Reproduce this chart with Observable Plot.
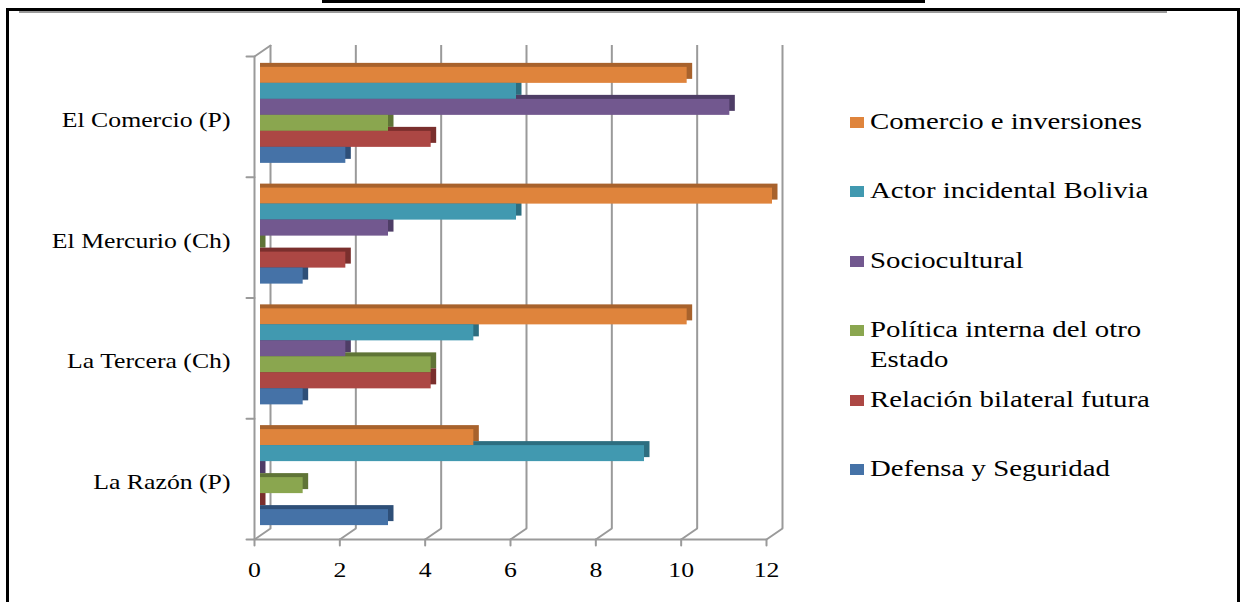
<!DOCTYPE html>
<html>
<head>
<meta charset="utf-8">
<script src="https://cdn.jsdelivr.net/npm/d3@7"></script>
<script src="https://cdn.jsdelivr.net/npm/@observablehq/plot@0.6"></script>
<style>
  html, body { margin: 0; padding: 0; background: #fff; }
  #wrap { position: relative; width: 1241px; height: 602px; overflow: hidden;
          font-family: "Liberation Serif", "Times New Roman", serif; }
  #chart { position: absolute; left: 0; top: 0; }
  .deco { position: absolute; }
  #legend { position: absolute; left: 0; top: 0; width: 1241px; height: 602px; pointer-events: none; }
  .lg-item { position: absolute; left: 850px; display: flex; align-items: flex-start; }
  .lg-sw { width: 14px; height: 11px; margin-top: 10px; flex: none; }
  .lg-txt { margin-left: 6px; font-size: 22.5px; line-height: 30px; color: #000;
            transform: scaleX(1.28); transform-origin: 0 0; white-space: nowrap; }
</style>
</head>
<body>
<div id="wrap">
  <div id="chart"></div>
  <div id="legend"></div>
  <div class="deco" style="left:322px;top:0;width:603px;height:3px;background:#000"></div>
  <div class="deco" style="left:6px;top:8px;width:1234px;height:3px;background:#000"></div>
  <div class="deco" style="left:19px;top:11px;width:1148px;height:2px;background:#9a9a9a"></div>
  <div class="deco" style="left:6px;top:8px;width:3px;height:594px;background:#000"></div>
  <div class="deco" style="left:1237px;top:8px;width:3px;height:594px;background:#000"></div>
</div>
<script>
// ---- data ----
const papers = ["El Comercio (P)", "El Mercurio (Ch)", "La Tercera (Ch)", "La Razón (P)"];
const seriesNames = [
  "Comercio e inversiones",
  "Actor incidental Bolivia",
  "Sociocultural",
  "Política interna del otro Estado",
  "Relación bilateral futura",
  "Defensa y Seguridad"
];
const comercio  = [10, 12, 10, 5];
const actor     = [6, 6, 5, 9];
const socio     = [11, 3, 2, 0];
const politica  = [3, 0, 4, 1];
const relacion  = [4, 2, 4, 0];
const defensa   = [2, 1, 1, 3];
const xTicks = [0, 2, 4, 6, 8, 10, 12];

const frontColors = ["#DF843C", "#4199B0", "#72588F", "#8AA64F", "#AC4744", "#4572A7"];
const sideColors  = ["#A8622C", "#2D6E80", "#4E3D66", "#5F7436", "#7A2F2D", "#2E4F78"];

// ---- build table ----
const seriesValues = [comercio, actor, socio, politica, relacion, defensa];
const rows = [];
papers.forEach((p, pi) => {
  seriesNames.forEach((s, si) => {
    rows.push({paper: p, pi, series: s, si, value: seriesValues[si][pi]});
  });
});

const barPad = 0.09;   // top padding inside a newspaper band (fraction of band)
const barH = 0.1325;   // thickness of one bar (fraction of band)
const y1 = d => d.pi + barPad + d.si * barH;
const y2 = d => d.pi + barPad + (d.si + 1) * barH;

const gray = "#9a9a9a";
const depthDx = 16, depthDy = -11;

const plot = Plot.plot({
  width: 1241,
  height: 602,
  marginLeft: 254,
  marginRight: 1241 - 766,
  marginTop: 56,
  marginBottom: 63,
  style: {fontFamily: "'Liberation Serif', 'Times New Roman', serif", background: "transparent", color: "#000"},
  x: {domain: [0, 12]},
  y: {domain: [0, 4], reverse: true},
  color: {domain: seriesNames, range: frontColors},
  marks: [
    // back wall gridlines
    Plot.ruleX(xTicks, {x: d => d, y1: 0, y2: 4, dx: depthDx, dy: depthDy, stroke: gray, strokeWidth: 2}),
    // floor diagonals
    Plot.vector(xTicks, {x: d => d, y: 4, rotate: 55.5, length: 19.4, anchor: "start", r: 0, stroke: gray, strokeWidth: 2}),
    // top-left diagonal of the side wall
    Plot.vector([0], {x: d => d, y: 0, rotate: 55.5, length: 19.4, anchor: "start", r: 0, stroke: gray, strokeWidth: 2}),
    // front left axis
    Plot.ruleX([0], {x: d => d, y1: 0, y2: 4, stroke: gray, strokeWidth: 2}),
    // front floor
    Plot.ruleY([4], {y: d => d, x1: 0, x2: 12, stroke: gray, strokeWidth: 2}),
    // category boundary ticks
    Plot.vector([0, 1, 2, 3, 4], {x: 0, y: d => d, rotate: -90, length: 8, anchor: "start", r: 0, stroke: gray, strokeWidth: 2}),
    // x ticks under the floor
    Plot.vector(xTicks, {x: d => d, y: 4, rotate: 180, length: 6, anchor: "start", r: 0, stroke: gray, strokeWidth: 2}),
    // bar depth (top + side faces)
    Plot.rectX(rows, {x1: 0, x2: "value", y1, y2, dx: 6, dy: -4, insetRight: -5.5,
      fill: d => sideColors[d.si]}),
    // bar fronts
    Plot.rectX(rows, {x1: 0, x2: "value", y1, y2, dx: 6, fill: "series"}),
    // axes text
    Plot.axisX(xTicks, {tickSize: 0, tickPadding: 22, fontSize: 22, label: null, fill: "#000"}),
    Plot.axisY(papers.map((d, i) => i + 0.5), {tickSize: 0, tickPadding: 24, fontSize: 22, dy: 3,
      tickFormat: d => papers[Math.floor(d)], label: null, fill: "#000"})
  ]
});
document.getElementById("chart").appendChild(plot);

// horizontal stretch of the label glyphs (the original image is stretched)
d3.select(plot).selectAll("g[aria-label='x-axis tick label'] text, g[aria-label='y-axis tick label'] text")
  .each(function() {
    const t = this.getAttribute("transform") || "";
    this.setAttribute("transform", t + " scale(1.17,1)");
  });

// ---- legend ----
const legendTops = [122, 191, 261, 330, 400, 469];
const lg = document.getElementById("legend");
seriesNames.forEach((s, i) => {
  const item = document.createElement("div");
  item.className = "lg-item";
  item.style.top = (legendTops[i] - 15) + "px";
  const sw = document.createElement("div");
  sw.className = "lg-sw";
  sw.style.background = frontColors[i];
  const tx = document.createElement("div");
  tx.className = "lg-txt";
  if (s === "Política interna del otro Estado") {
    tx.innerHTML = "Política interna del otro<br>Estado";
  } else {
    tx.textContent = s;
  }
  item.appendChild(sw);
  item.appendChild(tx);
  lg.appendChild(item);
});
</script>
</body>
</html>
